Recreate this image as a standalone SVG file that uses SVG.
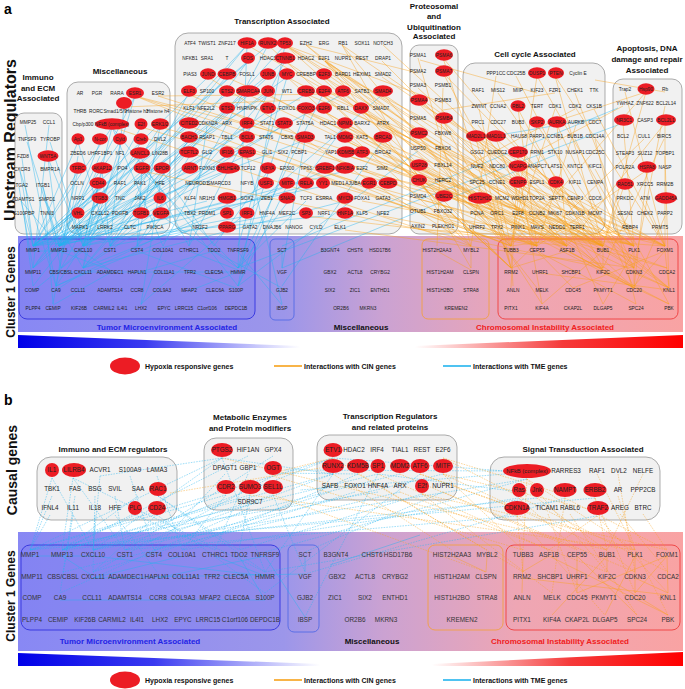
<svg xmlns="http://www.w3.org/2000/svg" width="685" height="689" viewBox="0 0 685 689">
<style>
text{font-family:"Liberation Sans",Arial,sans-serif}
.a{font-size:4.8px;text-anchor:middle;fill:#222}
.b{font-size:6.3px;text-anchor:middle;fill:#222}
.c{font-size:6.4px;text-anchor:middle;fill:#333}
.r{fill:#ec1c24}
.bx{fill:#f1f1f1;stroke:#8a8a8a;stroke-width:0.7}
.ti{font-weight:bold;font-size:8px;text-anchor:middle;fill:#111}
.big{font-weight:bold;text-anchor:middle;fill:#111}
.cy{stroke:#22b4ee;stroke-width:0.5;fill:none;opacity:0.85}
.or{stroke:#f7a11a;stroke-width:0.5;fill:none;opacity:0.85}
.ds{stroke-dasharray:1.6 1.1}
.lg{font-weight:bold;font-size:7px;fill:#111}
</style>
<defs>
<linearGradient id="band" x1="0" y1="0" x2="1" y2="0">
<stop offset="0" stop-color="#8888f4"/><stop offset="0.4" stop-color="#9c96ea"/><stop offset="0.55" stop-color="#cba2d2"/><stop offset="0.75" stop-color="#eea6b4"/><stop offset="1" stop-color="#f9a3a3"/>
</linearGradient>
<linearGradient id="wb" x1="0" y1="0" x2="1" y2="0"><stop offset="0" stop-color="#0000e8"/><stop offset="0.45" stop-color="#3a3af0"/><stop offset="1" stop-color="#ffffff"/></linearGradient>
<linearGradient id="wr" x1="0" y1="0" x2="1" y2="0"><stop offset="0" stop-color="#ffffff"/><stop offset="0.55" stop-color="#f53a3a"/><stop offset="1" stop-color="#ff0000"/></linearGradient>
</defs>
<rect width="685" height="689" fill="#ffffff"/>

<!-- ===== PANEL A ===== -->
<text x="4" y="14" font-size="14" font-weight="bold" font-family="Liberation Sans,Arial,sans-serif">a</text>
<text class="big" transform="translate(16,140) rotate(-90)" font-size="16">Upstream Regulators</text>
<text class="big" transform="translate(15,292) rotate(-90)" font-size="12">Cluster 1 Genes</text>

<g id="a-boxes">
<rect class="bx" x="15" y="113" width="47" height="121" rx="9"/>
<rect class="bx" x="67" y="82" width="103" height="152" rx="11"/>
<rect class="bx" x="175" y="33" width="227" height="201" rx="13"/>
<rect class="bx" x="410" y="45" width="48" height="189" rx="9"/>
<rect class="bx" x="463" y="63" width="142" height="171" rx="12"/>
<rect class="bx" x="613" y="79" width="69" height="155" rx="10"/>
</g>
<g id="a-titles" class="ti">
<text x="38" y="80">Immuno</text><text x="38" y="91">and ECM</text><text x="38" y="101">Associated</text>
<text x="120" y="74">Miscellaneous</text>
<text x="282" y="24">Transcription Associated</text>
<text x="434" y="9">Proteosomal</text><text x="434" y="19">and</text><text x="434" y="30">Ubiquitination</text><text x="434" y="39">Associated</text>
<text x="535" y="57">Cell cycle Associated</text>
<text x="647" y="51">Apoptosis, DNA</text><text x="647" y="62">damage and repair</text><text x="647" y="73">Associated</text>
</g>

<g id="a-cluster">
<rect x="18" y="236" width="665" height="96" fill="url(#band)"/>
<rect x="19" y="239" width="236" height="80" rx="8" fill="#7c7cf0" fill-opacity="0.4" stroke="#3a3ae0" stroke-width="1"/>
<rect x="270" y="239" width="24" height="81" rx="5" fill="none" stroke="#5b6ee6" stroke-width="1"/>
<rect x="422" y="239" width="67" height="80" rx="6" fill="none" stroke="#f0a050" stroke-width="1"/>
<rect x="498" y="239" width="180" height="80" rx="7" fill="none" stroke="#f04848" stroke-width="1"/>
<polygon points="18,335 300,346 300,348 18,348" fill="url(#wb)"/>
<polygon points="415,346 683,335 683,348 415,348" fill="url(#wr)"/>
<text x="167" y="330" font-size="8" font-weight="bold" fill="#2323e6" text-anchor="middle">Tumor Microenvironment Associated</text>
<text x="361" y="330" font-size="8" font-weight="bold" fill="#111" text-anchor="middle">Miscellaneous</text>
<text x="545" y="330" font-size="8" font-weight="bold" fill="#f02020" text-anchor="middle">Chromosomal Instability Associated</text>
</g>

<g id="a-connectors">
<path class="cy" d="M22 158L33 246M48 158L59 246M48 158L83 246M20 171L33 246M20 171L56 286M19 187L33 268M43 187L59 246M43 187L61 268M25 125L56 286M49 125L33 268M50 142L83 246M27 142L59 246M21 201L33 246M21 201L59 246M45 201L83 268M24 215L33 286M46 215L53 304M78 171L33 246M78 171L59 246M102 171L83 246M102 171L110 246M142 171L59 246M142 171L137 246M142 171L238 268M162 171L83 268M162 171L214 246M98 186L59 246M98 186L33 268M98 186L83 268M112 127L33 246M112 127L83 246M112 127L163 246M112 127L238 286M78 142L33 246M78 142L110 246M100 142L59 246M141 142L83 246M141 127L61 268M160 127L137 246M160 127L56 286M135 96L59 246M135 96L83 268M140 156L33 246M140 156L189 246M77 186L56 286M160 186L141 304M120 142L33 268M100 156L59 246M120 156L83 246M78 156L53 304M124 107L110 246M100 201L59 246M100 201L33 268M78 215L83 246M120 215L33 246M142 215L110 246M160 215L238 268M100 229L59 246M142 229L83 268M78 229L33 286M247 45L59 246M247 45L83 246M247 45L238 268M268 45L33 246M268 45L163 246M285 45L83 268M285 45L238 286M248 61L33 246M248 61L110 246M285 61L59 246M285 61L189 246M208 77L33 246M226 77L83 246M268 77L61 268M287 77L59 246M287 77L238 246M247 94L83 246M268 94L33 246M268 94L137 246M306 94L59 246M227 111L33 268M268 111L83 246M306 111L238 286M189 126L33 246M247 126L59 246M283 126L83 246M283 126L238 268M189 140L110 246M247 140L83 268M305 140L33 246M305 140L282 268M247 155L59 246M247 155L282 304M190 171L33 246M227 171L83 246M268 171L214 246M266 186L56 286M287 186L238 286M306 186L83 246M323 94L238 268M343 94L59 246M383 94L141 304M345 126L238 268M383 140L282 286M325 171L83 268M345 171L59 246M324 186L33 246M188 94L110 246M227 94L33 246M190 155L137 246M207 126L189 246M207 201L33 246M227 201L59 246M247 216L83 246M268 216L110 246M190 230L56 286M306 201L238 268M324 216L33 246M345 201L83 268M623 123L238 268M618 108L282 246M555 155L282 268M418 151L238 286M600 118L470 140"/>
<path class="cy" d="M33 251L83 251M83 252L110 270M61 272L238 272M189 251L238 270M137 251L236 288M56 290L83 273M238 252L282 305M282 252L282 268M110 273L53 305M163 251L141 305M214 251L282 288M59 251L110 270M33 291L83 251M137 273L214 251M189 291L238 272"/>
<path class="or" d="M135 96L511 246M135 96L603 246M158 96L634 246M160 127L667 268M141 127L537 246M142 171L603 268M112 127L471 246M124 107L300 100M135 96L306 140M158 96L343 94M285 45L511 246M285 45L603 246M285 45L665 246M285 45L634 288M306 45L537 246M306 45L567 246M268 45L511 268M247 45L634 268M287 77L603 246M287 77L471 246M285 61L567 246M268 94L537 246M306 94L665 246M306 111L634 246M306 111L603 270M325 61L511 246M325 61L567 246M325 61L634 268M325 61L471 246M324 77L603 246M324 77L537 246M323 94L511 268M323 94L665 246M323 111L634 288M323 111L567 246M343 94L603 268M342 45L511 246M342 45L634 246M342 45L471 268M360 111L603 246M345 126L537 246M345 140L634 288M383 140L511 268M383 155L603 246M346 155L667 268M360 155L567 246M345 171L634 246M325 171L537 246M362 171L665 246M306 171L511 246M383 45L603 246M382 61L567 246M382 77L634 246M383 94L669 288M189 126L511 246M188 94L537 246M226 77L603 246M227 111L634 246M247 94L567 246M208 77L471 246M362 201L603 246M383 216L537 246M345 230L634 268M306 216L567 246M443 58L603 246M443 58L511 268M443 73L537 246M443 73L634 268M418 103L567 246M418 103L665 246M443 121L511 246M443 121L603 270M418 136L634 246M418 136L537 288M418 168L603 246M418 168L669 288M418 183L567 246M418 183L511 268M418 58L471 246M443 88L437 246M418 88L634 288M443 151L542 304M418 73L306 45M443 103L285 45M418 121L325 61M418 199L603 246M443 214L537 246M418 229L665 246M537 76L511 246M537 76L634 246M555 76L603 246M555 76L665 246M518 109L537 246M518 109L603 268M537 125L511 246M537 125L634 268M557 125L567 246M557 125L634 288M476 139L511 268M476 139L603 246M496 139L537 246M496 139L669 288M518 155L634 246M518 155L511 288M518 169L603 270M518 169L542 304M496 76L471 246M516 76L603 246M575 93L634 246M594 109L665 246M555 109L511 246M576 125L537 246M595 139L636 304M536 155L603 304M595 169L669 304M479 109L511 246M498 93L603 246M478 125L567 246M575 139L634 268M537 93L420 60M555 93L443 110M575 109L460 170M555 186L634 246M497 201L511 268M537 201L665 246M575 216L603 246M518 230L567 246M595 230L669 288M646 92L603 246M646 92L511 246M623 123L634 246M665 123L665 246M665 123L567 246M647 170L537 246M647 170L634 288M664 139L603 268M625 92L665 246M665 106L634 268M644 139L511 268M665 156L669 288M646 92L560 120M623 106L540 150M665 92L595 80M624 186L603 246M646 201L665 246M665 216L634 288M625 230L511 246"/>
<path class="or" d="M665 251L634 286M634 251L634 286M603 251L603 268M567 251L511 268M537 251L573 288M665 251L669 288M603 273L669 304M511 251L513 286M634 273L669 288M471 251L471 268M603 251L542 304M537 251L636 304M634 251L603 304M665 251L573 288M567 251L669 304M540 273L669 290M437 251L471 270"/>
</g>

<g id="a-immuno" class="a">
<g id="a-MMP25"><text x="28" y="123.7">MMP25</text></g>
<g id="a-CCL1"><text x="49" y="123.7">CCL1</text></g>
<g id="a-TNFSF9"><text x="27" y="140.7">TNFSF9</text></g>
<g id="a-TYROBP"><text x="50" y="140.7">TYROBP</text></g>
<g id="a-FZD8"><text x="23" y="157.7">FZD8</text></g>
<g id="a-WNT5A"><ellipse class="r" cx="48" cy="156" rx="10.5" ry="5.8"/><text x="48" y="157.7">WNT5A</text></g>
<g id="a-CXCR3"><text x="22" y="170.7">CXCR3</text></g>
<g id="a-BMPR1A"><text x="50" y="170.7">BMPR1A</text></g>
<g id="a-ITGA2"><text x="21" y="186.7">ITGA2</text></g>
<g id="a-ITGB1"><text x="43" y="186.7">ITGB1</text></g>
<g id="a-ADAMTS1"><text x="23" y="200.7">ADAMTS1</text></g>
<g id="a-SMPD1"><text x="47" y="200.7">SMPD1</text></g>
<g id="a-S100PBP"><text x="24" y="214.7">S100PBP</text></g>
<g id="a-TNNI3"><text x="47" y="214.7">TNNI3</text></g>
</g>

<g id="a-misc" class="a">
<g id="a-AR"><text x="80" y="94.7">AR</text></g>
<g id="a-PGR"><text x="97" y="94.7">PGR</text></g>
<g id="a-RARA"><text x="117" y="94.7">RARA</text></g>
<g id="a-ESR1"><ellipse class="r" cx="135" cy="93" rx="9" ry="5.8"/><text x="135" y="94.7">ESR1</text></g>
<g id="a-ESR2"><text x="158" y="94.7">ESR2</text></g>
<g id="a-blob"><ellipse class="r" cx="124" cy="103" rx="8" ry="6"/></g>
<g id="a-THRB"><text x="80" y="112.7">THRB</text></g>
<g id="a-RORC"><text x="96" y="112.7">RORC</text></g>
<g id="a-Smad159"><text x="115" y="112.7">Smad1/5/9</text></g>
<g id="a-Histoneh3"><text x="137" y="112.7">Histone h3</text></g>
<g id="a-Histoneh4"><text x="158" y="112.7">Histone h4</text></g>
<g id="a-Cbpp300"><text x="83" y="125.7">Cbp/p300</text></g>
<g id="a-NFkB"><ellipse class="r" cx="112" cy="124" rx="17" ry="5.8"/><text x="112" y="125.7">NFkB (complex)</text></g>
<g id="a-E2f"><ellipse class="r" cx="141" cy="124" rx="6.5" ry="5.8"/><text x="141" y="125.7">E2f</text></g>
<g id="a-ERK12"><ellipse class="r" cx="160" cy="124" rx="9" ry="5.8"/><text x="160" y="125.7">ERK1/2</text></g>
<g id="a-Ap1"><ellipse class="r" cx="78" cy="139" rx="6.5" ry="5.8"/><text x="78" y="140.7">Ap1</text></g>
<g id="a-Ncor"><ellipse class="r" cx="100" cy="139" rx="8" ry="5.8"/><text x="100" y="140.7">N-cor</text></g>
<g id="a-Cyld"><ellipse class="r" cx="120" cy="139" rx="7" ry="5.8"/><text x="120" y="140.7">Cyld</text></g>
<g id="a-Creb"><ellipse class="r" cx="141" cy="139" rx="7.5" ry="5.8"/><text x="141" y="140.7">Creb</text></g>
<g id="a-DVL2"><text x="160" y="140.7">DVL2</text></g>
<g id="a-ZBED6"><text x="78" y="154.7">ZBED6</text></g>
<g id="a-UHRF1BP1"><text x="100" y="154.7">UHRF1BP1</text></g>
<g id="a-NF1"><text x="120" y="154.7">NF1</text></g>
<g id="a-LANCL1"><ellipse class="r" cx="140" cy="153" rx="10" ry="5.8"/><text x="140" y="154.7">LANCL1</text></g>
<g id="a-LIN28B"><text x="160" y="154.7">LIN28B</text></g>
<g id="a-TFRC"><ellipse class="r" cx="78" cy="168" rx="8.5" ry="5.8"/><text x="78" y="169.7">TFRC</text></g>
<g id="a-AKAP12"><ellipse class="r" cx="102" cy="168" rx="10.5" ry="5.8"/><text x="102" y="169.7">AKAP12</text></g>
<g id="a-IPO4"><text x="122" y="169.7">IPO4</text></g>
<g id="a-EGFR"><ellipse class="r" cx="142" cy="168" rx="8.5" ry="5.8"/><text x="142" y="169.7">EGFR</text></g>
<g id="a-EPOR"><ellipse class="r" cx="162" cy="168" rx="8.5" ry="5.8"/><text x="162" y="169.7">EPOR</text></g>
<g id="a-OCLN"><text x="77" y="184.7">OCLN</text></g>
<g id="a-CD44"><ellipse class="r" cx="98" cy="183" rx="8.5" ry="5.8"/><text x="98" y="184.7">CD44</text></g>
<g id="a-RAF1m"><text x="120" y="184.7">RAF1</text></g>
<g id="a-PAK1"><text x="140" y="184.7">PAK1</text></g>
<g id="a-HFEm"><text x="160" y="184.7">HFE</text></g>
<g id="a-NRP1"><text x="78" y="199.7">NRP1</text></g>
<g id="a-ITGB3"><ellipse class="r" cx="100" cy="198" rx="8.5" ry="5.8"/><text x="100" y="199.7">ITGB3</text></g>
<g id="a-TNC"><text x="120" y="199.7">TNC</text></g>
<g id="a-JAK2"><text x="140" y="199.7">JAK2</text></g>
<g id="a-IL6"><ellipse class="r" cx="160" cy="198" rx="6.5" ry="5.8"/><text x="160" y="199.7">IL6</text></g>
<g id="a-VHL"><ellipse class="r" cx="78" cy="213" rx="6.5" ry="5.8"/><text x="78" y="214.7">VHL</text></g>
<g id="a-CXCL12"><text x="100" y="214.7">CXCL12</text></g>
<g id="a-PDGFB"><text x="120" y="214.7">PDGFB</text></g>
<g id="a-TGFB1"><ellipse class="r" cx="141" cy="213" rx="8.5" ry="5.8"/><text x="141" y="214.7">TGFB1</text></g>
<g id="a-VEGFA"><ellipse class="r" cx="161" cy="213" rx="8.5" ry="5.8"/><text x="161" y="214.7">VEGFA</text></g>
<g id="a-MAPK1"><text x="80" y="228.7">MAPK1</text></g>
<g id="a-LRRK2"><text x="105" y="228.7">LRRK2</text></g>
<g id="a-CLTC"><text x="130" y="228.7">CLTC</text></g>
<g id="a-PIK3CA"><text x="155" y="228.7">PIK3CA</text></g>
</g>

<g id="a-transcription" class="a">
<g id="a-ATF4"><text x="190" y="44.7">ATF4</text></g>
<g id="a-TWIST1"><text x="207" y="44.7">TWIST1</text></g>
<g id="a-ZNF217"><text x="227" y="44.7">ZNF217</text></g>
<g id="a-HIF1A"><ellipse class="r" cx="247" cy="43" rx="9.5" ry="5.8"/><text x="247" y="44.7">HIF1A</text></g>
<g id="a-RUNX2"><ellipse class="r" cx="268" cy="43" rx="10" ry="5.8"/><text x="268" y="44.7">RUNX2</text></g>
<g id="a-TP53"><ellipse class="r" cx="285" cy="43" rx="8" ry="5.8"/><text x="285" y="44.7">TP53</text></g>
<g id="a-EZH2"><text x="306" y="44.7">EZH2</text></g>
<g id="a-ERG"><text x="324" y="44.7">ERG</text></g>
<g id="a-RB1"><text x="343" y="44.7">RB1</text></g>
<g id="a-SOX11"><text x="362" y="44.7">SOX11</text></g>
<g id="a-NOTCH3"><text x="383" y="44.7">NOTCH3</text></g>
<g id="a-NFKB1"><text x="190" y="59.7">NFKB1</text></g>
<g id="a-SRA1"><text x="207" y="59.7">SRA1</text></g>
<g id="a-T"><text x="227" y="59.7">T</text></g>
<g id="a-FOS"><ellipse class="r" cx="248" cy="58" rx="7" ry="5.8"/><text x="248" y="59.7">FOS</text></g>
<g id="a-HDAC3"><text x="268" y="59.7">HDAC3</text></g>
<g id="a-CTNNB1"><ellipse class="r" cx="285" cy="58" rx="10.5" ry="5.8"/><text x="285" y="59.7">CTNNB1</text></g>
<g id="a-HDAC2"><text x="306" y="59.7">HDAC2</text></g>
<g id="a-E2F1"><text x="324" y="59.7">E2F1</text></g>
<g id="a-NUPR1"><text x="343" y="59.7">NUPR1</text></g>
<g id="a-REST"><text x="362" y="59.7">REST</text></g>
<g id="a-DRAP1"><text x="383" y="59.7">DRAP1</text></g>
<g id="a-PIAS3"><text x="190" y="75.7">PIAS3</text></g>
<g id="a-JUND"><ellipse class="r" cx="208" cy="74" rx="8" ry="5.8"/><text x="208" y="75.7">JUND</text></g>
<g id="a-CEBPB"><ellipse class="r" cx="227" cy="74" rx="9.5" ry="5.8"/><text x="227" y="75.7">CEBPB</text></g>
<g id="a-FOSL1"><text x="247" y="75.7">FOSL1</text></g>
<g id="a-JUNB"><ellipse class="r" cx="268" cy="74" rx="8" ry="5.8"/><text x="268" y="75.7">JUNB</text></g>
<g id="a-MYC"><ellipse class="r" cx="287" cy="74" rx="8" ry="5.8"/><text x="287" y="75.7">MYC</text></g>
<g id="a-CREBBP"><text x="306" y="75.7">CREBBP</text></g>
<g id="a-E2F3"><ellipse class="r" cx="324" cy="74" rx="8" ry="5.8"/><text x="324" y="75.7">E2F3</text></g>
<g id="a-BARD1"><text x="343" y="75.7">BARD1</text></g>
<g id="a-HEXIM1"><text x="362" y="75.7">HEXIM1</text></g>
<g id="a-SMAD2"><text x="383" y="75.7">SMAD2</text></g>
<g id="a-ELF3"><ellipse class="r" cx="189" cy="91" rx="8" ry="5.8"/><text x="189" y="92.7">ELF3</text></g>
<g id="a-SP100"><text x="207" y="92.7">SP100</text></g>
<g id="a-ETS2"><ellipse class="r" cx="227" cy="91" rx="8" ry="5.8"/><text x="227" y="92.7">ETS2</text></g>
<g id="a-SMARCA4"><ellipse class="r" cx="248" cy="91" rx="12" ry="5.8"/><text x="248" y="92.7">SMARCA4</text></g>
<g id="a-JUN"><ellipse class="r" cx="268" cy="91" rx="7" ry="5.8"/><text x="268" y="92.7">JUN</text></g>
<g id="a-WT1"><text x="287" y="92.7">WT1</text></g>
<g id="a-CREB1"><ellipse class="r" cx="306" cy="91" rx="9" ry="5.8"/><text x="306" y="92.7">CREB1</text></g>
<g id="a-E2F4"><ellipse class="r" cx="324" cy="91" rx="8" ry="5.8"/><text x="324" y="92.7">E2F4</text></g>
<g id="a-ATF6"><ellipse class="r" cx="343" cy="91" rx="8" ry="5.8"/><text x="343" y="92.7">ATF6</text></g>
<g id="a-SATB1"><text x="362" y="92.7">SATB1</text></g>
<g id="a-SMAD4"><ellipse class="r" cx="383" cy="91" rx="10" ry="5.8"/><text x="383" y="92.7">SMAD4</text></g>
<g id="a-KLF1"><text x="189" y="109.7">KLF1</text></g>
<g id="a-NFE2L2"><text x="206" y="109.7">NFE2L2</text></g>
<g id="a-ETS1"><ellipse class="r" cx="227" cy="108" rx="8" ry="5.8"/><text x="227" y="109.7">ETS1</text></g>
<g id="a-HNRNPK"><text x="247" y="109.7">HNRNPK</text></g>
<g id="a-ETV1"><ellipse class="r" cx="268" cy="108" rx="8" ry="5.8"/><text x="268" y="109.7">ETV1</text></g>
<g id="a-FOXO1"><text x="287" y="109.7">FOXO1</text></g>
<g id="a-FOXO3"><ellipse class="r" cx="306" cy="108" rx="9.5" ry="5.8"/><text x="306" y="109.7">FOXO3</text></g>
<g id="a-E2F6"><ellipse class="r" cx="324" cy="108" rx="8" ry="5.8"/><text x="324" y="109.7">E2F6</text></g>
<g id="a-RBL1"><text x="343" y="109.7">RBL1</text></g>
<g id="a-DAXX"><ellipse class="r" cx="361" cy="108" rx="8" ry="5.8"/><text x="361" y="109.7">DAXX</text></g>
<g id="a-SMAD7"><text x="381" y="109.7">SMAD7</text></g>
<g id="a-CITED2"><ellipse class="r" cx="189" cy="123" rx="10" ry="5.8"/><text x="189" y="124.7">CITED2</text></g>
<g id="a-CDKN2A"><text x="208" y="124.7">CDKN2A</text></g>
<g id="a-ARX"><text x="227" y="124.7">ARX</text></g>
<g id="a-IRF4"><ellipse class="r" cx="247" cy="123" rx="7.5" ry="5.8"/><text x="247" y="124.7">IRF4</text></g>
<g id="a-STAT1"><text x="267" y="124.7">STAT1</text></g>
<g id="a-STAT3"><ellipse class="r" cx="284" cy="123" rx="9" ry="5.8"/><text x="284" y="124.7">STAT3</text></g>
<g id="a-STAT5A"><text x="305" y="124.7">STAT5A</text></g>
<g id="a-HDAC1"><text x="328" y="124.7">HDAC1</text></g>
<g id="a-NPM1"><ellipse class="r" cx="345" cy="123" rx="8" ry="5.8"/><text x="345" y="124.7">NPM1</text></g>
<g id="a-BARX2"><text x="362" y="124.7">BARX2</text></g>
<g id="a-ATRX"><text x="383" y="124.7">ATRX</text></g>
<g id="a-BACH1"><ellipse class="r" cx="189" cy="137" rx="9" ry="5.8"/><text x="189" y="138.7">BACH1</text></g>
<g id="a-RSAP1"><text x="207" y="138.7">RSAP1</text></g>
<g id="a-TBL1"><text x="227" y="138.7">TBL1</text></g>
<g id="a-BCL6"><ellipse class="r" cx="247" cy="137" rx="8" ry="5.8"/><text x="247" y="138.7">BCL6</text></g>
<g id="a-STAT6"><text x="266" y="138.7">STAT6</text></g>
<g id="a-CBX5"><text x="287" y="138.7">CBX5</text></g>
<g id="a-SMAD3"><ellipse class="r" cx="305" cy="137" rx="10" ry="5.8"/><text x="305" y="138.7">SMAD3</text></g>
<g id="a-TAL1"><text x="330" y="138.7">TAL1</text></g>
<g id="a-MDM2"><ellipse class="r" cx="345" cy="137" rx="8.5" ry="5.8"/><text x="345" y="138.7">MDM2</text></g>
<g id="a-KAT5"><text x="362" y="138.7">KAT5</text></g>
<g id="a-BRCA1"><ellipse class="r" cx="383" cy="137" rx="9.5" ry="5.8"/><text x="383" y="138.7">BRCA1</text></g>
<g id="a-TCF7L2"><ellipse class="r" cx="189" cy="152" rx="10" ry="5.8"/><text x="189" y="153.7">TCF7L2</text></g>
<g id="a-GLI2"><text x="207" y="153.7">GLI2</text></g>
<g id="a-IFI16"><ellipse class="r" cx="227" cy="152" rx="7.5" ry="5.8"/><text x="227" y="153.7">IFI16</text></g>
<g id="a-EPAS1"><ellipse class="r" cx="247" cy="152" rx="9" ry="5.8"/><text x="247" y="153.7">EPAS1</text></g>
<g id="a-GLI1"><text x="267" y="153.7">GLI1</text></g>
<g id="a-SIX2u"><text x="283" y="153.7">SIX2</text></g>
<g id="a-PCBP1"><text x="299" y="153.7">PCBP1</text></g>
<g id="a-YAP1"><text x="331" y="153.7">YAP1</text></g>
<g id="a-KDM5B"><ellipse class="r" cx="346" cy="152" rx="9.5" ry="5.8"/><text x="346" y="153.7">KDM5B</text></g>
<g id="a-ATF3"><ellipse class="r" cx="362" cy="152" rx="8" ry="5.8"/><text x="362" y="153.7">ATF3</text></g>
<g id="a-BRCA2"><text x="383" y="153.7">BRCA2</text></g>
<g id="a-ARNT"><ellipse class="r" cx="190" cy="168" rx="8.5" ry="5.8"/><text x="190" y="169.7">ARNT</text></g>
<g id="a-FOXN3"><text x="207" y="169.7">FOXN3</text></g>
<g id="a-BHLHE40"><ellipse class="r" cx="228" cy="168" rx="12" ry="5.8"/><text x="228" y="169.7">BHLHE40</text></g>
<g id="a-TCF12"><text x="248" y="169.7">TCF12</text></g>
<g id="a-NFYA"><ellipse class="r" cx="268" cy="168" rx="8" ry="5.8"/><text x="268" y="169.7">NFYA</text></g>
<g id="a-EP300"><text x="287" y="169.7">EP300</text></g>
<g id="a-TP63"><text x="306" y="169.7">TP63</text></g>
<g id="a-SREBF1"><ellipse class="r" cx="325" cy="168" rx="10" ry="5.8"/><text x="325" y="169.7">SREBF1</text></g>
<g id="a-NFKBIA"><ellipse class="r" cx="345" cy="168" rx="10" ry="5.8"/><text x="345" y="169.7">NFKBIA</text></g>
<g id="a-E2F2"><text x="362" y="169.7">E2F2</text></g>
<g id="a-SIM2"><text x="382" y="169.7">SIM2</text></g>
<g id="a-NEUROD1"><text x="197" y="184.7">NEUROD1</text></g>
<g id="a-SMARCD3"><text x="219" y="184.7">SMARCD3</text></g>
<g id="a-NFYB"><text x="247" y="184.7">NFYB</text></g>
<g id="a-USF1"><ellipse class="r" cx="266" cy="183" rx="8" ry="5.8"/><text x="266" y="184.7">USF1</text></g>
<g id="a-MITF"><ellipse class="r" cx="287" cy="183" rx="8" ry="5.8"/><text x="287" y="184.7">MITF</text></g>
<g id="a-RELA"><ellipse class="r" cx="306" cy="183" rx="8" ry="5.8"/><text x="306" y="184.7">RELA</text></g>
<g id="a-YY1"><ellipse class="r" cx="323" cy="183" rx="7" ry="5.8"/><text x="323" y="184.7">YY1</text></g>
<g id="a-MED1"><text x="338" y="184.7">MED1</text></g>
<g id="a-AJUBA"><text x="353" y="184.7">AJUBA</text></g>
<g id="a-EGR1"><ellipse class="r" cx="369" cy="183" rx="8" ry="5.8"/><text x="369" y="184.7">EGR1</text></g>
<g id="a-CEBPD"><ellipse class="r" cx="388" cy="183" rx="9.5" ry="5.8"/><text x="388" y="184.7">CEBPD</text></g>
<g id="a-KLF4"><text x="190" y="199.7">KLF4</text></g>
<g id="a-NR1H3"><text x="207" y="199.7">NR1H3</text></g>
<g id="a-HMGB1"><ellipse class="r" cx="227" cy="198" rx="9.5" ry="5.8"/><text x="227" y="199.7">HMGB1</text></g>
<g id="a-SOX2"><text x="247" y="199.7">SOX2</text></g>
<g id="a-ZEB1"><text x="267" y="199.7">ZEB1</text></g>
<g id="a-SNAI1"><ellipse class="r" cx="287" cy="198" rx="8.5" ry="5.8"/><text x="287" y="199.7">SNAI1</text></g>
<g id="a-TCF3"><text x="306" y="199.7">TCF3</text></g>
<g id="a-ESRRA"><text x="324" y="199.7">ESRRA</text></g>
<g id="a-MYCN"><ellipse class="r" cx="345" cy="198" rx="8.5" ry="5.8"/><text x="345" y="199.7">MYCN</text></g>
<g id="a-FOXA1"><text x="362" y="199.7">FOXA1</text></g>
<g id="a-GATA3"><text x="383" y="199.7">GATA3</text></g>
<g id="a-TBX2"><text x="190" y="214.7">TBX2</text></g>
<g id="a-PRDM1"><text x="207" y="214.7">PRDM1</text></g>
<g id="a-SP1"><ellipse class="r" cx="227" cy="213" rx="7" ry="5.8"/><text x="227" y="214.7">SP1</text></g>
<g id="a-IRF1"><ellipse class="r" cx="247" cy="213" rx="7.5" ry="5.8"/><text x="247" y="214.7">IRF1</text></g>
<g id="a-HNF4A"><text x="267" y="214.7">HNF4A</text></g>
<g id="a-MEF2C"><text x="287" y="214.7">MEF2C</text></g>
<g id="a-SP3"><ellipse class="r" cx="306" cy="213" rx="7" ry="5.8"/><text x="306" y="214.7">SP3</text></g>
<g id="a-NRF1"><text x="324" y="214.7">NRF1</text></g>
<g id="a-HNF1A"><ellipse class="r" cx="345" cy="213" rx="8.5" ry="5.8"/><text x="345" y="214.7">HNF1A</text></g>
<g id="a-KLF5"><text x="362" y="214.7">KLF5</text></g>
<g id="a-NFE2"><text x="383" y="214.7">NFE2</text></g>
<g id="a-NR2F2"><text x="200" y="228.7">NR2F2</text></g>
<g id="a-PPARG"><ellipse class="r" cx="227" cy="227" rx="9" ry="5.8"/><text x="227" y="228.7">PPARG</text></g>
<g id="a-GATA2"><text x="250" y="228.7">GATA2</text></g>
<g id="a-DNAJB6"><text x="272" y="228.7">DNAJB6</text></g>
<g id="a-NANOG"><text x="294" y="228.7">NANOG</text></g>
<g id="a-CYLD"><text x="316" y="228.7">CYLD</text></g>
<g id="a-ELK1"><text x="340" y="228.7">ELK1</text></g>
</g>

<g id="a-proteo" class="a">
<g id="a-PSMA1"><text x="418" y="56.7">PSMA1</text></g>
<g id="a-PSMA6"><ellipse class="r" cx="444" cy="55" rx="9" ry="5.8"/><text x="444" y="56.7">PSMA6</text></g>
<g id="a-PSMA2"><text x="418" y="72.7">PSMA2</text></g>
<g id="a-PSMA7"><ellipse class="r" cx="444" cy="71" rx="9" ry="5.8"/><text x="444" y="72.7">PSMA7</text></g>
<g id="a-PSMA3"><text x="418" y="86.7">PSMA3</text></g>
<g id="a-PSMB1"><text x="443" y="86.7">PSMB1</text></g>
<g id="a-PSMA4"><ellipse class="r" cx="419" cy="100" rx="9" ry="5.8"/><text x="419" y="101.7">PSMA4</text></g>
<g id="a-PSMB3"><text x="443" y="101.7">PSMB3</text></g>
<g id="a-PSMA5"><text x="418" y="119.7">PSMA5</text></g>
<g id="a-PSMB4"><ellipse class="r" cx="444" cy="118" rx="9" ry="5.8"/><text x="444" y="119.7">PSMB4</text></g>
<g id="a-PSMC2"><ellipse class="r" cx="419" cy="133" rx="9" ry="5.8"/><text x="419" y="134.7">PSMC2</text></g>
<g id="a-FBXW8"><text x="443" y="134.7">FBXW8</text></g>
<g id="a-USP50"><text x="418" y="149.7">USP50</text></g>
<g id="a-FBXO6"><text x="443" y="149.7">FBXO6</text></g>
<g id="a-USP28"><ellipse class="r" cx="419" cy="165" rx="9" ry="5.8"/><text x="419" y="166.7">USP28</text></g>
<g id="a-FBXL14"><text x="443" y="166.7">FBXL14</text></g>
<g id="a-CHUK"><ellipse class="r" cx="419" cy="180" rx="8" ry="5.8"/><text x="419" y="181.7">CHUK</text></g>
<g id="a-HERC2"><text x="443" y="181.7">HERC2</text></g>
<g id="a-PSMD4"><text x="418" y="197.7">PSMD4</text></g>
<g id="a-UBE2C"><ellipse class="r" cx="444" cy="196" rx="9" ry="5.8"/><text x="444" y="197.7">UBE2C</text></g>
<g id="a-OTUB1"><text x="418" y="212.7">OTUB1</text></g>
<g id="a-FBXO32"><text x="443" y="212.7">FBXO32</text></g>
<g id="a-AXIN2"><text x="418" y="227.7">AXIN2</text></g>
<g id="a-PLEKHO1"><text x="443" y="227.7">PLEKHO1</text></g>
</g>

<g id="a-cellcycle" class="a">
<g id="a-PPP1CC"><text x="496" y="74.7">PPP1CC</text></g>
<g id="a-CDC25B"><text x="516" y="74.7">CDC25B</text></g>
<g id="a-DUSP1"><ellipse class="r" cx="537" cy="73" rx="9" ry="5.8"/><text x="537" y="74.7">DUSP1</text></g>
<g id="a-PTEN"><ellipse class="r" cx="556" cy="73" rx="8" ry="5.8"/><text x="556" y="74.7">PTEN</text></g>
<g id="a-CyclinE"><text x="578" y="74.7">Cyclin E</text></g>
<g id="a-RAF1"><text x="478" y="91.7">RAF1</text></g>
<g id="a-MIS12"><text x="498" y="91.7">MIS12</text></g>
<g id="a-MIIP"><text x="518" y="91.7">MIIP</text></g>
<g id="a-KIF23"><text x="537" y="91.7">KIF23</text></g>
<g id="a-FZR1"><text x="555" y="91.7">FZR1</text></g>
<g id="a-CHEK1"><text x="575" y="91.7">CHEK1</text></g>
<g id="a-TTK"><text x="594" y="91.7">TTK</text></g>
<g id="a-ZWINT"><text x="479" y="107.7">ZWINT</text></g>
<g id="a-CCNA2"><text x="498" y="107.7">CCNA2</text></g>
<g id="a-RBL2"><ellipse class="r" cx="518" cy="106" rx="7.5" ry="5.8"/><text x="518" y="107.7">RBL2</text></g>
<g id="a-TERT"><text x="537" y="107.7">TERT</text></g>
<g id="a-CDK1"><text x="555" y="107.7">CDK1</text></g>
<g id="a-CDK2"><text x="575" y="107.7">CDK2</text></g>
<g id="a-CKS1B"><text x="594" y="107.7">CKS1B</text></g>
<g id="a-PRC1"><text x="478" y="123.7">PRC1</text></g>
<g id="a-CDC27"><text x="498" y="123.7">CDC27</text></g>
<g id="a-BUB3"><text x="518" y="123.7">BUB3</text></g>
<g id="a-SKP2"><ellipse class="r" cx="537" cy="122" rx="8" ry="5.8"/><text x="537" y="123.7">SKP2</text></g>
<g id="a-AURKA"><ellipse class="r" cx="557" cy="122" rx="9.5" ry="5.8"/><text x="557" y="123.7">AURKA</text></g>
<g id="a-AURKB"><text x="576" y="123.7">AURKB</text></g>
<g id="a-CDC7"><text x="595" y="123.7">CDC7</text></g>
<g id="a-MAD2L1"><ellipse class="r" cx="476" cy="136" rx="10" ry="5.8"/><text x="476" y="137.7">MAD2L1</text></g>
<g id="a-MAD1L1"><ellipse class="r" cx="496" cy="136" rx="10" ry="5.8"/><text x="496" y="137.7">MAD1L1</text></g>
<g id="a-HAUS8"><text x="519" y="137.7">HAUS8</text></g>
<g id="a-PARP1"><text x="537" y="137.7">PARP1</text></g>
<g id="a-CCNB1"><text x="555" y="137.7">CCNB1</text></g>
<g id="a-BUB1B"><text x="575" y="137.7">BUB1B</text></g>
<g id="a-CDC14A"><text x="595" y="137.7">CDC14A</text></g>
<g id="a-GSG2"><text x="477" y="153.7">GSG2</text></g>
<g id="a-CUEDC2"><text x="497" y="153.7">CUEDC2</text></g>
<g id="a-CEP170"><ellipse class="r" cx="518" cy="152" rx="10" ry="5.8"/><text x="518" y="153.7">CEP170</text></g>
<g id="a-RRM1"><text x="537" y="153.7">RRM1</text></g>
<g id="a-STK10"><text x="555" y="153.7">STK10</text></g>
<g id="a-NUSAP1"><text x="575" y="153.7">NUSAP1</text></g>
<g id="a-CDC25C"><text x="595" y="153.7">CDC25C</text></g>
<g id="a-NUF2"><text x="477" y="167.7">NUF2</text></g>
<g id="a-NDC80"><text x="497" y="167.7">NDC80</text></g>
<g id="a-NCAPG"><ellipse class="r" cx="518" cy="166" rx="9.5" ry="5.8"/><text x="518" y="167.7">NCAPG</text></g>
<g id="a-ANAPC7"><text x="537" y="167.7">ANAPC7</text></g>
<g id="a-LATS1"><text x="555" y="167.7">LATS1</text></g>
<g id="a-KNTC1"><text x="575" y="167.7">KNTC1</text></g>
<g id="a-KIFC1"><text x="595" y="167.7">KIFC1</text></g>
<g id="a-SPC25"><text x="477" y="183.7">SPC25</text></g>
<g id="a-CCNE1"><text x="497" y="183.7">CCNE1</text></g>
<g id="a-CENPF"><ellipse class="r" cx="518" cy="182" rx="9" ry="5.8"/><text x="518" y="183.7">CENPF</text></g>
<g id="a-ESPL1"><text x="537" y="183.7">ESPL1</text></g>
<g id="a-CDK4"><ellipse class="r" cx="556" cy="182" rx="8" ry="5.8"/><text x="556" y="183.7">CDK4</text></g>
<g id="a-KIF11"><text x="575" y="183.7">KIF11</text></g>
<g id="a-CENPA"><text x="595" y="183.7">CENPA</text></g>
<g id="a-HIST1H1C"><ellipse class="r" cx="480" cy="198" rx="12" ry="5.8"/><text x="480" y="199.7">HIST1H1C</text></g>
<g id="a-MCM2"><text x="502" y="199.7">MCM2</text></g>
<g id="a-WDHD1"><text x="520" y="199.7">WDHD1</text></g>
<g id="a-TOP2A"><text x="537" y="199.7">TOP2A</text></g>
<g id="a-SEPT7"><text x="556" y="199.7">SEPT7</text></g>
<g id="a-CENPJ"><text x="575" y="199.7">CENPJ</text></g>
<g id="a-CDC6"><text x="595" y="199.7">CDC6</text></g>
<g id="a-PCNA"><text x="477" y="214.7">PCNA</text></g>
<g id="a-ORC1"><text x="497" y="214.7">ORC1</text></g>
<g id="a-E2F8"><text x="518" y="214.7">E2F8</text></g>
<g id="a-CCNB2"><text x="537" y="214.7">CCNB2</text></g>
<g id="a-MKI67"><text x="555" y="214.7">MKI67</text></g>
<g id="a-CDKN1B"><text x="575" y="214.7">CDKN1B</text></g>
<g id="a-MCM7"><text x="595" y="214.7">MCM7</text></g>
<g id="a-UHRF2"><text x="477" y="228.7">UHRF2</text></g>
<g id="a-TPX2"><text x="497" y="228.7">TPX2</text></g>
<g id="a-PINK1"><text x="518" y="228.7">PINK1</text></g>
<g id="a-MAVS"><text x="537" y="228.7">MAVS</text></g>
<g id="a-NEDD1"><text x="557" y="228.7">NEDD1</text></g>
<g id="a-TERF1"><text x="577" y="228.7">TERF1</text></g>
</g>

<g id="a-apoptosis" class="a">
<g id="a-Trap2"><text x="625" y="90.7">Trap2</text></g>
<g id="a-Hsp90"><ellipse class="r" cx="646" cy="89" rx="8.5" ry="5.8"/><text x="646" y="90.7">Hsp90</text></g>
<g id="a-Rb"><text x="665" y="90.7">Rb</text></g>
<g id="a-YWHAZ"><text x="625" y="104.7">YWHAZ</text></g>
<g id="a-ZNF622"><text x="645" y="104.7">ZNF622</text></g>
<g id="a-BCL2L14"><text x="666" y="104.7">BCL2L14</text></g>
<g id="a-NR3C1"><ellipse class="r" cx="624" cy="120" rx="10" ry="5.8"/><text x="624" y="121.7">NR3C1</text></g>
<g id="a-CASP3"><text x="645" y="121.7">CASP3</text></g>
<g id="a-BCL2L1"><ellipse class="r" cx="666" cy="120" rx="10" ry="5.8"/><text x="666" y="121.7">BCL2L1</text></g>
<g id="a-BCL2"><text x="623" y="137.7">BCL2</text></g>
<g id="a-CUL1"><text x="644" y="137.7">CUL1</text></g>
<g id="a-BIRC5"><text x="664" y="137.7">BIRC5</text></g>
<g id="a-STEAP3"><text x="625" y="154.7">STEAP3</text></g>
<g id="a-SUZ12"><text x="645" y="154.7">SUZ12</text></g>
<g id="a-TOPBP1"><text x="665" y="154.7">TOPBP1</text></g>
<g id="a-POLR2A"><text x="625" y="168.7">POLR2A</text></g>
<g id="a-HSPA8"><ellipse class="r" cx="647" cy="167" rx="9.5" ry="5.8"/><text x="647" y="168.7">HSPA8</text></g>
<g id="a-NASP"><text x="665" y="168.7">NASP</text></g>
<g id="a-RAD51"><ellipse class="r" cx="625" cy="184" rx="9" ry="5.8"/><text x="625" y="185.7">RAD51</text></g>
<g id="a-XRCC5"><text x="645" y="185.7">XRCC5</text></g>
<g id="a-RRM2B"><text x="665" y="185.7">RRM2B</text></g>
<g id="a-PRKDC"><text x="625" y="199.7">PRKDC</text></g>
<g id="a-ATM"><text x="645" y="199.7">ATM</text></g>
<g id="a-GADD45A"><ellipse class="r" cx="666" cy="198" rx="11" ry="5.8"/><text x="666" y="199.7">GADD45A</text></g>
<g id="a-SESN2"><text x="625" y="214.7">SESN2</text></g>
<g id="a-CHEK2"><text x="645" y="214.7">CHEK2</text></g>
<g id="a-PARP2"><text x="665" y="214.7">PARP2</text></g>
<g id="a-RBBP4"><text x="630" y="228.7">RBBP4</text></g>
<g id="a-PRMT5"><text x="660" y="228.7">PRMT5</text></g>
</g>

<g id="a-cluster-genes" class="a">
<text x="33" y="251.7">MMP1</text><text x="59" y="251.7">MMP13</text><text x="83" y="251.7">CXCL10</text><text x="110" y="251.7">CST1</text><text x="137" y="251.7">CST4</text><text x="163" y="251.7">COL10A1</text><text x="189" y="251.7">CTHRC1</text><text x="214" y="251.7">TDO2</text><text x="238" y="251.7">TNFRSF9</text>
<text x="33" y="273.7">MMP11</text><text x="61" y="273.7">CBS/CBSL</text><text x="83" y="273.7">CXCL11</text><text x="110" y="273.7">ADAMDEC1</text><text x="137" y="273.7">HAPLN1</text><text x="164" y="273.7">COL11A1</text><text x="190" y="273.7">TFR2</text><text x="214" y="273.7">CLEC5A</text><text x="238" y="273.7">HMMR</text>
<text x="32" y="291.7">COMP</text><text x="56" y="291.7">CA9</text><text x="78" y="291.7">CCL11</text><text x="110" y="291.7">ADAMTS14</text><text x="137" y="291.7">CCR8</text><text x="162" y="291.7">COL9A3</text><text x="189" y="291.7">MFAP2</text><text x="215" y="291.7">CLEC6A</text><text x="236" y="291.7">S100P</text>
<text x="33" y="309.7">PLPP4</text><text x="53" y="309.7">CEMIP</text><text x="79" y="309.7">KIF26B</text><text x="104" y="309.7">CARMIL2</text><text x="122" y="309.7">IL4I1</text><text x="141" y="309.7">LHX2</text><text x="164" y="309.7">EPYC</text><text x="184" y="309.7">LRRC15</text><text x="207" y="309.7">C1orf106</text><text x="236" y="309.7">DEPDC1B</text>
<text x="282" y="251.7">SCT</text><text x="282" y="273.7">VGF</text><text x="282" y="291.7">GJB2</text><text x="282" y="309.7">IBSP</text>
<text x="330" y="251.7">B3GNT4</text><text x="355" y="251.7">CHST6</text><text x="380" y="251.7">HSD17B6</text>
<text x="330" y="273.7">GBX2</text><text x="355" y="273.7">ACTL8</text><text x="380" y="273.7">CRYBG2</text>
<text x="330" y="291.7">SIX2</text><text x="355" y="291.7">ZIC1</text><text x="380" y="291.7">ENTHD1</text>
<text x="341" y="309.7">OR2B6</text><text x="368" y="309.7">MKRN3</text>
<text x="437" y="251.7">HIST2H2AA3</text><text x="471" y="251.7">MYBL2</text>
<text x="440" y="273.7">HIST1H2AM</text><text x="471" y="273.7">CLSPN</text>
<text x="440" y="291.7">HIST1H2BO</text><text x="471" y="291.7">STRA8</text>
<text x="456" y="309.7">KREMEN2</text>
<text x="511" y="251.7">TUBB3</text><text x="537" y="251.7">CEP55</text><text x="567" y="251.7">ASF1B</text><text x="603" y="251.7">BUB1</text><text x="634" y="251.7">PLK1</text><text x="665" y="251.7">FOXM1</text>
<text x="511" y="273.7">RRM2</text><text x="540" y="273.7">UHRF1</text><text x="571" y="273.7">SHCBP1</text><text x="603" y="273.7">KIF2C</text><text x="634" y="273.7">CDKN3</text><text x="667" y="273.7">CDCA2</text>
<text x="513" y="291.7">ANLN</text><text x="542" y="291.7">MELK</text><text x="573" y="291.7">CDC45</text><text x="603" y="291.7">PKMYT1</text><text x="634" y="291.7">CDC20</text><text x="669" y="291.7">KNL1</text>
<text x="511" y="309.7">PITX1</text><text x="542" y="309.7">KIF4A</text><text x="573" y="309.7">CKAP2L</text><text x="603" y="309.7">DLGAP5</text><text x="636" y="309.7">SPC24</text><text x="669" y="309.7">PBK</text>
</g>

<g id="a-legend">
<ellipse class="r" cx="125" cy="366" rx="15" ry="8.5"/>
<text class="lg" x="145" y="368.5">Hypoxia responsive genes</text>
<line x1="274" y1="366" x2="302" y2="366" stroke="#f7a11a" stroke-width="1.6"/>
<text class="lg" x="304" y="368.5">Interactions with CIN genes</text>
<line x1="443" y1="366" x2="471" y2="366" stroke="#22b4ee" stroke-width="1.6"/>
<text class="lg" x="473" y="368.5">Interactions with TME genes</text>
</g>

<!-- ===== PANEL B ===== -->
<text x="4" y="405" font-size="14" font-weight="bold" font-family="Liberation Sans,Arial,sans-serif">b</text>
<text class="big" transform="translate(17,470) rotate(-90)" font-size="14">Causal  genes</text>
<text class="big" transform="translate(15,596) rotate(-90)" font-size="12">Cluster 1 Genes</text>

<g id="b-boxes">
<rect class="bx" x="37" y="457" width="140" height="63" rx="14"/>
<rect class="bx" x="204" y="438" width="89" height="72" rx="12"/>
<rect class="bx" x="317" y="435" width="140" height="65" rx="12"/>
<rect class="bx" x="490" y="457" width="170" height="63" rx="14"/>
</g>
<g id="b-titles" class="ti">
<text x="113" y="452">Immuno and ECM regulators</text>
<text x="250" y="420">Metabolic Enzymes</text><text x="250" y="431">and Protein modifiers</text>
<text x="390" y="419">Transcription Regulators</text><text x="390" y="430">and related proteins</text>
<text x="583" y="452">Signal Transduction Associated</text>
</g>

<g id="b-cluster">
<rect x="18" y="532" width="665" height="119" fill="url(#band)"/>
<rect x="21" y="545" width="259" height="85" rx="9" fill="#7c7cf0" fill-opacity="0.35" stroke="#3a3ae0" stroke-width="1"/>
<rect x="288" y="545" width="31" height="87" rx="6" fill="none" stroke="#5b6ee6" stroke-width="1"/>
<rect x="428" y="545" width="75" height="85" rx="7" fill="none" stroke="#f0a050" stroke-width="1"/>
<rect x="506" y="545" width="174" height="85" rx="8" fill="none" stroke="#f04848" stroke-width="1"/>
<polygon points="18,653 320,664 320,666 18,666" fill="url(#wb)"/>
<polygon points="432,664 683,652 683,666 432,666" fill="url(#wr)"/>
<text x="130" y="644" font-size="8" font-weight="bold" fill="#2323e6" text-anchor="middle">Tumor Microenvironment Associated</text>
<text x="372" y="644" font-size="8" font-weight="bold" fill="#111" text-anchor="middle">Miscellaneous</text>
<text x="560" y="644" font-size="8" font-weight="bold" fill="#f02020" text-anchor="middle">Chromosomal Instability Associated</text>
</g>

<g id="b-connectors">
<path class="cy ds" d="M52 478L30 550M52 478L93 550M73 478L62 550M73 478L125 550M73 478L265 572M100 476L93 550M130 476L154 550M157 476L182 550M52 496L30 550M75 496L63 572M95 496L93 572M115 496L125 550M138 496L62 550M158 496L239 550M158 496L265 572M50 515L30 550M73 515L60 593M95 515L93 550M115 515L157 572M135 515L62 550M135 515L215 550M157 515L265 593M157 515L93 572M222 458L30 550M222 458L93 550M222 458L265 572M248 456L62 550M273 456L125 550M225 474L154 550M273 476L93 572M226 495L30 550M226 495L182 550M250 495L62 550M250 495L239 550M273 495L93 550M273 495L305 572M250 508L60 593M248 474L215 550M333 458L30 550M333 458L93 550M333 474L62 550M333 474L265 572M333 474L125 550M330 492L154 550M355 492L93 572M378 492L30 550M358 474L182 550M378 474L62 550M400 474L93 550M420 474L265 593M443 474L125 550M422 494L239 550M443 492L305 552M400 492L63 572M378 474L305 617M527 479L265 552M527 479L93 550M519 498L182 550M537 498L62 550M565 498L305 574M595 498L30 550M517 516L125 550M597 516L265 572M505 471L285 470M505 474L300 490M505 471L333 458M520 492L378 474M222 458L333 474M273 473L358 474M100 476L222 458"/>
<path class="cy" d="M30 556L93 556M62 556L93 576M93 556L265 576M215 556L265 576M157 578L265 556M265 556L305 617M93 578L305 574M60 600L265 600M239 556L265 600M182 556L93 578M330 565L420 535M305 556L305 572"/>
<path class="or ds" d="M443 474L523 550M443 474L607 550M420 474L635 550M422 494L667 550M400 474L577 550M358 474L487 550M378 474L549 550M333 474L452 550M333 458L523 572M443 492L635 572M400 492L607 572M443 458L668 572M422 494L552 593M273 476L523 550M222 458L607 550M250 495L635 550M273 495L486 572M170 493L320 468M527 479L523 550M527 479L635 550M527 479L607 572M519 498L577 550M537 498L635 572M565 498L667 550M565 498L552 593M595 498L607 550M595 498L635 593M517 516L523 572M517 516L605 615M597 516L668 593M597 516L549 550M618 496L635 550M620 514L668 572M643 514L667 550M570 514L637 615M548 514L577 593M643 474L607 550M597 474L668 615M618 474L635 572M443 474L597 511M443 458L565 495M420 474L520 510M273 473L333 458"/>
<path class="or" d="M667 556L635 593M635 556L635 593M607 556L607 572M549 556L522 572M577 556L577 593M667 556L668 593M607 578L668 615M523 556L522 593M635 578L668 593M487 556L486 572M607 556L552 615M577 556L637 615M635 556L605 615M667 556L577 593M549 556L668 615M522 578L668 595M452 556L486 572"/>
</g>

<g id="b-immuno" class="b">
<g id="b-IL1"><ellipse class="r" cx="52" cy="470" rx="7" ry="7"/><text x="52" y="472.2">IL1</text></g>
<g id="b-LILRB4"><ellipse class="r" cx="74" cy="470" rx="12" ry="7"/><text x="74" y="472.2">LILRB4</text></g>
<g id="b-ACVR1"><text x="100" y="472.2">ACVR1</text></g>
<g id="b-S100A9"><text x="130" y="472.2">S100A9</text></g>
<g id="b-LAMA3"><text x="157" y="472.2">LAMA3</text></g>
<g id="b-TBK1"><text x="52" y="491.2">TBK1</text></g>
<g id="b-FAS"><text x="75" y="491.2">FAS</text></g>
<g id="b-BSG"><text x="95" y="491.2">BSG</text></g>
<g id="b-SVIL"><text x="115" y="491.2">SVIL</text></g>
<g id="b-SAA"><text x="138" y="491.2">SAA</text></g>
<g id="b-RAC1"><ellipse class="r" cx="158" cy="489" rx="9" ry="7"/><text x="158" y="491.2">RAC1</text></g>
<g id="b-IFNL4"><text x="50" y="510.2">IFNL4</text></g>
<g id="b-IL11"><text x="73" y="510.2">IL11</text></g>
<g id="b-IL18"><text x="95" y="510.2">IL18</text></g>
<g id="b-HFE"><text x="115" y="510.2">HFE</text></g>
<g id="b-PLC"><ellipse class="r" cx="135" cy="508" rx="7" ry="7"/><text x="135" y="510.2">PLC</text></g>
<g id="b-CD24"><ellipse class="r" cx="157" cy="508" rx="9" ry="7"/><text x="157" y="510.2">CD24</text></g>
</g>

<g id="b-metabolic" class="b">
<g id="b-PTGS2"><ellipse class="r" cx="222" cy="450" rx="11" ry="7"/><text x="222" y="452.2">PTGS2</text></g>
<g id="b-HIF1AN"><text x="248" y="452.2">HIF1AN</text></g>
<g id="b-GPX4"><text x="273" y="452.2">GPX4</text></g>
<g id="b-DPAGT1"><text x="225" y="470.2">DPAGT1</text></g>
<g id="b-GBP1"><text x="248" y="470.2">GBP1</text></g>
<g id="b-OGT"><ellipse class="r" cx="273" cy="468" rx="9" ry="7"/><text x="273" y="470.2">OGT</text></g>
<g id="b-CDR2"><ellipse class="r" cx="226" cy="487" rx="9.5" ry="7"/><text x="226" y="489.2">CDR2</text></g>
<g id="b-SUMO3"><ellipse class="r" cx="250" cy="487" rx="11" ry="7"/><text x="250" y="489.2">SUMO3</text></g>
<g id="b-SEL1L"><ellipse class="r" cx="273" cy="487" rx="10" ry="7"/><text x="273" y="489.2">SEL1L</text></g>
<g id="b-SDR9C7"><text x="250" y="504.2">SDR9C7</text></g>
</g>

<g id="b-transcription" class="b">
<g id="b-ETV1"><ellipse class="r" cx="333" cy="450" rx="9.5" ry="7"/><text x="333" y="452.2">ETV1</text></g>
<g id="b-HDAC2"><text x="354" y="452.2">HDAC2</text></g>
<g id="b-IRF4"><text x="377" y="452.2">IRF4</text></g>
<g id="b-TIAL1"><text x="400" y="452.2">TIAL1</text></g>
<g id="b-REST"><text x="422" y="452.2">REST</text></g>
<g id="b-E2F6"><text x="443" y="452.2">E2F6</text></g>
<g id="b-RUNX2"><ellipse class="r" cx="333" cy="466" rx="11" ry="7"/><text x="333" y="468.2">RUNX2</text></g>
<g id="b-KDM5B"><ellipse class="r" cx="358" cy="466" rx="11" ry="7"/><text x="358" y="468.2">KDM5B</text></g>
<g id="b-SP1"><ellipse class="r" cx="378" cy="466" rx="7.5" ry="7"/><text x="378" y="468.2">SP1</text></g>
<g id="b-MDM2"><ellipse class="r" cx="400" cy="466" rx="10" ry="7"/><text x="400" y="468.2">MDM2</text></g>
<g id="b-ATF6"><ellipse class="r" cx="420" cy="466" rx="9.5" ry="7"/><text x="420" y="468.2">ATF6</text></g>
<g id="b-MITF"><ellipse class="r" cx="443" cy="466" rx="10" ry="7"/><text x="443" y="468.2">MITF</text></g>
<g id="b-SAFB"><text x="330" y="488.2">SAFB</text></g>
<g id="b-FOXO1"><text x="355" y="488.2">FOXO1</text></g>
<g id="b-HNF4A"><text x="378" y="488.2">HNF4A</text></g>
<g id="b-ARX"><text x="400" y="488.2">ARX</text></g>
<g id="b-E2f"><ellipse class="r" cx="422" cy="486" rx="7" ry="7"/><text x="422" y="488.2">E2f</text></g>
<g id="b-NUPR1"><text x="443" y="488.2">NUPR1</text></g>
</g>

<g id="b-signal" class="b">
<g id="b-NFkB"><ellipse class="r" cx="527" cy="471" rx="24" ry="7"/><text x="527" y="473" font-size="5.8">NFkB (complex)</text></g>
<g id="b-RARRES3"><text x="566" y="473.2">RARRES3</text></g>
<g id="b-RAF1"><text x="597" y="473.2">RAF1</text></g>
<g id="b-DVL2"><text x="619" y="473.2">DVL2</text></g>
<g id="b-NELFE"><text x="643" y="473.2">NELFE</text></g>
<g id="b-Ras"><ellipse class="r" cx="519" cy="490" rx="7" ry="7"/><text x="519" y="492.2">Ras</text></g>
<g id="b-Jnk"><ellipse class="r" cx="537" cy="490" rx="7" ry="7"/><text x="537" y="492.2">Jnk</text></g>
<g id="b-NAMPT"><ellipse class="r" cx="565" cy="490" rx="11.5" ry="7"/><text x="565" y="492.2">NAMPT</text></g>
<g id="b-ERBB2"><ellipse class="r" cx="595" cy="490" rx="11.5" ry="7"/><text x="595" y="492.2">ERBB2</text></g>
<g id="b-AR"><text x="618" y="492.2">AR</text></g>
<g id="b-PPP2CB"><text x="643" y="492.2">PPP2CB</text></g>
<g id="b-CDKN1A"><ellipse class="r" cx="517" cy="508" rx="12.5" ry="7"/><text x="517" y="510.2">CDKN1A</text></g>
<g id="b-TICAM1"><text x="547" y="510.2">TICAM1</text></g>
<g id="b-RABL6"><text x="570" y="510.2">RABL6</text></g>
<g id="b-TRAF2"><ellipse class="r" cx="598" cy="508" rx="11" ry="7"/><text x="598" y="510.2">TRAF2</text></g>
<g id="b-AREG"><text x="620" y="510.2">AREG</text></g>
<g id="b-BTRC"><text x="643" y="510.2">BTRC</text></g>
</g>

<g id="b-cluster-genes" class="c">
<text x="30" y="557.3">MMP1</text><text x="62" y="557.3">MMP13</text><text x="93" y="557.3">CXCL10</text><text x="125" y="557.3">CST1</text><text x="154" y="557.3">CST4</text><text x="182" y="557.3">COL10A1</text><text x="215" y="557.3">CTHRC1</text><text x="239" y="557.3">TDO2</text><text x="265" y="557.3">TNFRSF9</text>
<text x="32" y="579.3">MMP11</text><text x="63" y="579.3">CBS/CBSL</text><text x="93" y="579.3">CXCL11</text><text x="126" y="579.3">ADAMDEC1</text><text x="157" y="579.3">HAPLN1</text><text x="186" y="579.3">COL11A1</text><text x="212" y="579.3">TFR2</text><text x="236" y="579.3">CLEC5A</text><text x="265" y="579.3">HMMR</text>
<text x="32" y="600.3">COMP</text><text x="60" y="600.3">CA9</text><text x="92" y="600.3">CCL11</text><text x="125" y="600.3">ADAMTS14</text><text x="158" y="600.3">CCR8</text><text x="183" y="600.3">COL9A3</text><text x="210" y="600.3">MFAP2</text><text x="237" y="600.3">CLEC6A</text><text x="265" y="600.3">S100P</text>
<text x="32" y="622.3">PLPP4</text><text x="58" y="622.3">CEMIP</text><text x="85" y="622.3">KIF26B</text><text x="112" y="622.3">CARMIL2</text><text x="137" y="622.3">IL4I1</text><text x="160" y="622.3">LHX2</text><text x="183" y="622.3">EPYC</text><text x="208" y="622.3">LRRC15</text><text x="235" y="622.3">C1orf106</text><text x="265" y="622.3">DEPDC1B</text>
<text x="305" y="557.3">SCT</text><text x="305" y="579.3">VGF</text><text x="305" y="600.3">GJB2</text><text x="305" y="622.3">IBSP</text>
<text x="336" y="557.3">B3GNT4</text><text x="372" y="557.3">CHST6</text><text x="398" y="557.3">HSD17B6</text>
<text x="337" y="579.3">GBX2</text><text x="365" y="579.3">ACTL8</text><text x="395" y="579.3">CRYBG2</text>
<text x="335" y="600.3">ZIC1</text><text x="365" y="600.3">SIX2</text><text x="395" y="600.3">ENTHD1</text>
<text x="355" y="622.3">OR2B6</text><text x="386" y="622.3">MKRN3</text>
<text x="452" y="557.3">HIST2H2AA3</text><text x="487" y="557.3">MYBL2</text>
<text x="452" y="579.3">HIST1H2AM</text><text x="486" y="579.3">CLSPN</text>
<text x="452" y="600.3">HIST1H2BO</text><text x="487" y="600.3">STRA8</text>
<text x="462" y="622.3">KREMEN2</text>
<text x="523" y="557.3">TUBB3</text><text x="549" y="557.3">ASF1B</text><text x="577" y="557.3">CEP55</text><text x="607" y="557.3">BUB1</text><text x="635" y="557.3">PLK1</text><text x="667" y="557.3">FOXM1</text>
<text x="522" y="579.3">RRM2</text><text x="550" y="579.3">SHCBP1</text><text x="577" y="579.3">UHRF1</text><text x="607" y="579.3">KIF2C</text><text x="635" y="579.3">CDKN3</text><text x="668" y="579.3">CDCA2</text>
<text x="522" y="600.3">ANLN</text><text x="552" y="600.3">MELK</text><text x="577" y="600.3">CDC45</text><text x="604" y="600.3">PKMYT1</text><text x="635" y="600.3">CDC20</text><text x="668" y="600.3">KNL1</text>
<text x="522" y="622.3">PITX1</text><text x="552" y="622.3">KIF4A</text><text x="577" y="622.3">CKAP2L</text><text x="605" y="622.3">DLGAP5</text><text x="637" y="622.3">SPC24</text><text x="668" y="622.3">PBK</text>
</g>

<g id="b-legend">
<ellipse class="r" cx="125" cy="680" rx="15" ry="8.5"/>
<text class="lg" x="145" y="682.5">Hypoxia responsive genes</text>
<line x1="274" y1="680" x2="302" y2="680" stroke="#f7a11a" stroke-width="1.6"/>
<text class="lg" x="304" y="682.5">Interactions with CIN genes</text>
<line x1="443" y1="680" x2="471" y2="680" stroke="#22b4ee" stroke-width="1.6"/>
<text class="lg" x="473" y="682.5">Interactions with TME genes</text>
</g>
</svg>
